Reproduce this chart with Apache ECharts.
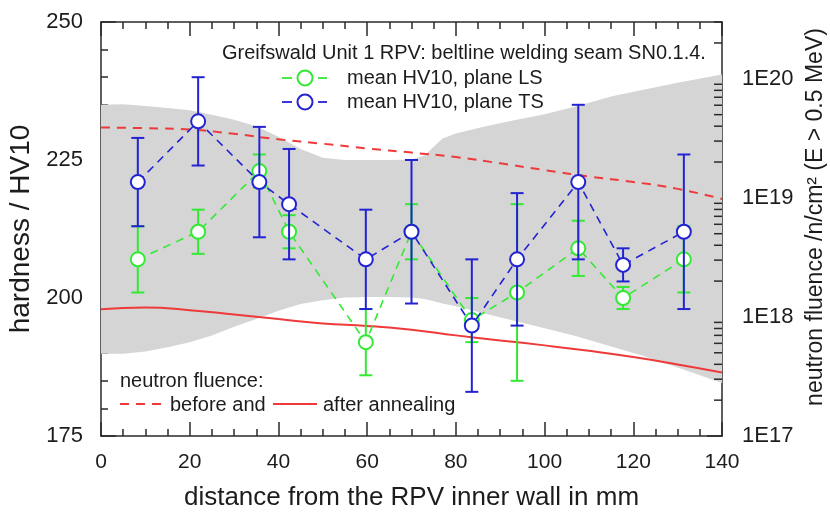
<!DOCTYPE html>
<html>
<head>
<meta charset="utf-8">
<script src="https://cdn.jsdelivr.net/npm/echarts@6/dist/echarts.min.js"></script>
<style>
  html, body { margin: 0; padding: 0; background: #fff; }
  #chart { width: 830px; height: 518px; }
</style>
</head>
<body>
<div id="chart"></div>
<script>
// Hardness measurements (HV10) along the wall thickness, two planes
const positions = [8.3, 21.9, 35.7, 42.4, 59.7, 70.0, 83.6, 93.8, 107.6, 117.7, 131.4];
const lsMean = [207, 212, 223, 212, 192, 212, 196, 201, 209, 200, 207];
const lsErr  = [6, 4, 3, 3, 6, 5, 4, 16, 5, 2, 6];
const tsMean = [221, 232, 221, 217, 207, 212, 195, 207, 221, 206, 212];
const tsErr  = [8, 8, 10, 10, 9, 13, 12, 12, 14, 3, 14];

// Neutron fluence (E > 0.5 MeV) through the wall, before and after annealing
const fluenceX = [0, 10, 20, 30, 40, 50, 60, 70, 80, 90, 100, 110, 120, 130, 140];
const fluenceBefore = [3.9e19, 3.85e19, 3.75e19, 3.45e19, 3.1e19, 2.85e19, 2.6e19, 2.4e19,
                       2.2e19, 1.95e19, 1.71e19, 1.51e19, 1.36e19, 1.19e19, 9.8e18];
const fluenceAfter = [1.16e18, 1.2e18, 1.14e18, 1.05e18, 9.6e17, 8.8e17, 8.4e17, 7.8e17,
                      7.0e17, 6.35e17, 5.77e17, 5.19e17, 4.6e17, 3.99e17, 3.42e17];

// Grey scatter band of the hardness values
const bandX     = [0, 5, 10, 15, 20, 25, 30, 35, 40, 45, 50, 55, 60, 65, 70, 73, 75, 77, 80,
                   86, 92, 100, 107, 115, 122, 130, 140];
const bandUpper = [235.0, 235.1, 234.8, 234.4, 234.0, 233.2, 232.3, 231.1, 229.2, 227.0, 225.4,
                   225.0, 225.0, 225.0, 225.1, 225.8, 227.4, 228.9, 229.8, 231.0, 232.0, 233.3,
                   234.7, 236.5, 237.7, 239.0, 240.5];
const bandLower = [189.9, 189.9, 190.3, 191.1, 192.0, 193.2, 194.8, 196.2, 197.7, 198.9, 199.6,
                   200.1, 200.2, 200.2, 200.1, 199.8, 199.4, 199.0, 198.5, 197.3, 196.1, 194.5,
                   193.1, 191.2, 189.6, 187.4, 184.6];

// Axis ticks
const xTicks = [0, 20, 40, 60, 80, 100, 120, 140];
const hardnessTicks = [175, 200, 225, 250];
const fluenceTicks = [1e17, 1e18, 1e19, 1e20];
const fluenceMinorTicks = [];
fluenceTicks.forEach(d => {
  for (let k = 2; k <= 9; k++) if (d * k <= 3e20) fluenceMinorTicks.push(d * k);
});

const FONT = "'Liberation Sans', Arial, sans-serif";
const TXT = '#1c1c1c';
const GREEN = '#33ea33';
const BLUE = '#2323d2';
const RED = '#ee3a3a';
const GREY = '#d5d5d5';
const FRAME = '#2a2a2a';

const chart = echarts.init(document.getElementById('chart'), null, { renderer: 'canvas' });

function errorBars(color, means, errs, z) {
  return {
    type: 'custom',
    z: z,
    silent: true,
    data: positions.map((x, i) => [x, means[i] - errs[i], means[i] + errs[i]]),
    encode: { x: 0, y: [1, 2] },
    renderItem(params, api) {
      const x = api.value(0);
      const lo = api.coord([x, api.value(1)]);
      const hi = api.coord([x, api.value(2)]);
      const hw = 6.5;
      const style = { stroke: color, lineWidth: 2, fill: null };
      return {
        type: 'group',
        children: [
          { type: 'line', shape: { x1: lo[0], y1: lo[1], x2: hi[0], y2: hi[1] }, style },
          { type: 'line', shape: { x1: lo[0] - hw, y1: lo[1], x2: lo[0] + hw, y2: lo[1] }, style },
          { type: 'line', shape: { x1: hi[0] - hw, y1: hi[1], x2: hi[0] + hw, y2: hi[1] }, style }
        ]
      };
    }
  };
}

function meanLine(color, means, z) {
  return {
    type: 'line',
    z: z,
    silent: true,
    data: positions.map((x, i) => [x, means[i]]),
    symbol: 'circle',
    symbolSize: 14,
    itemStyle: { color: '#fff', borderColor: color, borderWidth: 2 },
    lineStyle: { color: color, width: 1.6, type: [8, 6] }
  };
}

// The grey band: upper edge left to right, then lower edge back
const bandSeries = {
  type: 'custom',
  z: 1,
  silent: true,
  clip: true,
  data: bandX.map((x, i) => [x, bandLower[i], bandUpper[i]]),
  encode: { x: 0, y: [1, 2] },
  renderItem(params, api) {
    if (params.dataIndex !== 0) return null;
    const pts = [];
    for (let i = 0; i < bandX.length; i++) pts.push(api.coord([bandX[i], bandUpper[i]]));
    for (let i = bandX.length - 1; i >= 0; i--) pts.push(api.coord([bandX[i], bandLower[i]]));
    return { type: 'polygon', shape: { points: pts }, style: { fill: GREY, stroke: null } };
  }
};

// Short inward minor ticks of the logarithmic fluence axis (2..9 of each decade)
const fluenceMinorTickSeries = {
  type: 'custom',
  z: 7,
  silent: true,
  yAxisIndex: 1,
  clip: false,
  data: fluenceMinorTicks.map(v => [140, v]),
  encode: { x: 0, y: 1 },
  renderItem(params, api) {
    const p = api.coord([api.value(0), api.value(1)]);
    return {
      type: 'line',
      shape: { x1: p[0] - 8, y1: p[1], x2: p[0], y2: p[1] },
      style: { stroke: FRAME, lineWidth: 1.5 }
    };
  }
};

const xAxisBase = {
  type: 'value', min: 0, max: 140, interval: 20,
  axisLine: { show: true, onZero: false, lineStyle: { color: FRAME, width: 1.5 } },
  axisTick: { show: true, inside: true, length: 14, lineStyle: { color: FRAME, width: 1.5 } },
  minorTick: { show: true, splitNumber: 4, length: 7, lineStyle: { color: FRAME, width: 1.5 } },
  splitLine: { show: false }
};

const legendTexts = [
  { x: 222, y: 53, text: 'Greifswald Unit 1 RPV: beltline welding seam SN0.1.4.' },
  { x: 347, y: 78, text: 'mean HV10, plane LS' },
  { x: 347, y: 102, text: 'mean HV10, plane TS' },
  { x: 120, y: 381, text: 'neutron fluence:' },
  { x: 170, y: 405, text: 'before and' },
  { x: 323, y: 405, text: 'after annealing' }
];

function legendSymbol(color, y) {
  return [
    { type: 'line', z: 100, shape: { x1: 282, y1: y, x2: 292, y2: y }, style: { stroke: color, lineWidth: 1.8 } },
    { type: 'line', z: 100, shape: { x1: 318, y1: y, x2: 327, y2: y }, style: { stroke: color, lineWidth: 1.8 } },
    { type: 'circle', z: 100, shape: { cx: 305, cy: y, r: 7.5 }, style: { stroke: color, lineWidth: 2, fill: '#fff' } }
  ];
}

const graphics = [
  ...legendTexts.map(t => ({
    type: 'text', z: 100,
    style: { x: t.x, y: t.y, text: t.text, font: `20px ${FONT}`, fill: TXT, verticalAlign: 'middle' }
  })),
  ...legendSymbol(GREEN, 78),
  ...legendSymbol(BLUE, 102),
  { type: 'line', z: 100, shape: { x1: 120, y1: 404, x2: 164, y2: 404 },
    style: { stroke: RED, lineWidth: 2, lineDash: [9, 7] } },
  { type: 'line', z: 100, shape: { x1: 273, y1: 404, x2: 317, y2: 404 },
    style: { stroke: RED, lineWidth: 2 } }
];

const option = {
  animation: false,
  backgroundColor: '#fff',
  textStyle: { fontFamily: FONT },
  grid: {
    left: 101, top: 22, width: 621, height: 414,
    containLabel: false, outerBoundsMode: 'none'
  },
  xAxis: [
    Object.assign({}, xAxisBase, {
      position: 'bottom',
      name: 'distance from the RPV inner wall in mm',
      nameLocation: 'middle',
      nameGap: 49,
      nameTextStyle: { fontSize: 26, color: TXT, fontFamily: FONT },
      axisLabel: { show: true, fontSize: 21, color: TXT, margin: 16, fontFamily: FONT,
                   customValues: xTicks }
    }),
    Object.assign({}, xAxisBase, {
      position: 'top',
      axisLabel: { show: false }
    })
  ],
  yAxis: [
    {
      type: 'value', min: 175, max: 250, interval: 25, position: 'left',
      name: 'hardness / HV10', nameLocation: 'middle', nameGap: 58, nameRotate: 90,
      nameTextStyle: { fontSize: 28, color: TXT, fontFamily: FONT },
      axisLine: { show: true, onZero: false, lineStyle: { color: FRAME, width: 1.5 } },
      axisTick: { show: true, inside: true, length: 15, lineStyle: { color: FRAME, width: 1.5 } },
      minorTick: { show: true, splitNumber: 5, length: 7, lineStyle: { color: FRAME, width: 1.5 } },
      axisLabel: { fontSize: 22, color: TXT, margin: 18, fontFamily: FONT, customValues: hardnessTicks },
      splitLine: { show: false }
    },
    {
      type: 'log', logBase: 10, min: 1e17, max: 3e20, position: 'right',
      name: 'neutron fluence /n/cm² (E > 0.5 MeV)', nameLocation: 'middle', nameGap: 80, nameRotate: 90,
      nameTextStyle: { fontSize: 23, color: TXT, fontFamily: FONT, padding: [0, 0, 0, 24] },
      axisLine: { show: true, onZero: false, lineStyle: { color: FRAME, width: 1.5 } },
      axisTick: { show: true, inside: true, length: 15, customValues: fluenceTicks,
                  lineStyle: { color: FRAME, width: 1.5 } },
      minorTick: { show: false },
      axisLabel: { fontSize: 22, color: TXT, margin: 20, fontFamily: FONT, customValues: fluenceTicks,
                   formatter: v => '1E' + Math.round(Math.log10(v)) },
      splitLine: { show: false }
    }
  ],
  series: [
    bandSeries,
    {
      type: 'line', z: 2, silent: true, yAxisIndex: 1, smooth: true, symbol: 'none',
      data: fluenceX.map((x, i) => [x, fluenceBefore[i]]),
      lineStyle: { color: RED, width: 2, type: [9, 7] }
    },
    {
      type: 'line', z: 2, silent: true, yAxisIndex: 1, smooth: true, symbol: 'none',
      data: fluenceX.map((x, i) => [x, fluenceAfter[i]]),
      lineStyle: { color: RED, width: 2 }
    },
    errorBars(GREEN, lsMean, lsErr, 3),
    meanLine(GREEN, lsMean, 4),
    errorBars(BLUE, tsMean, tsErr, 5),
    meanLine(BLUE, tsMean, 6),
    fluenceMinorTickSeries
  ],
  graphic: graphics
};

chart.setOption(option);
</script>
</body>
</html>
